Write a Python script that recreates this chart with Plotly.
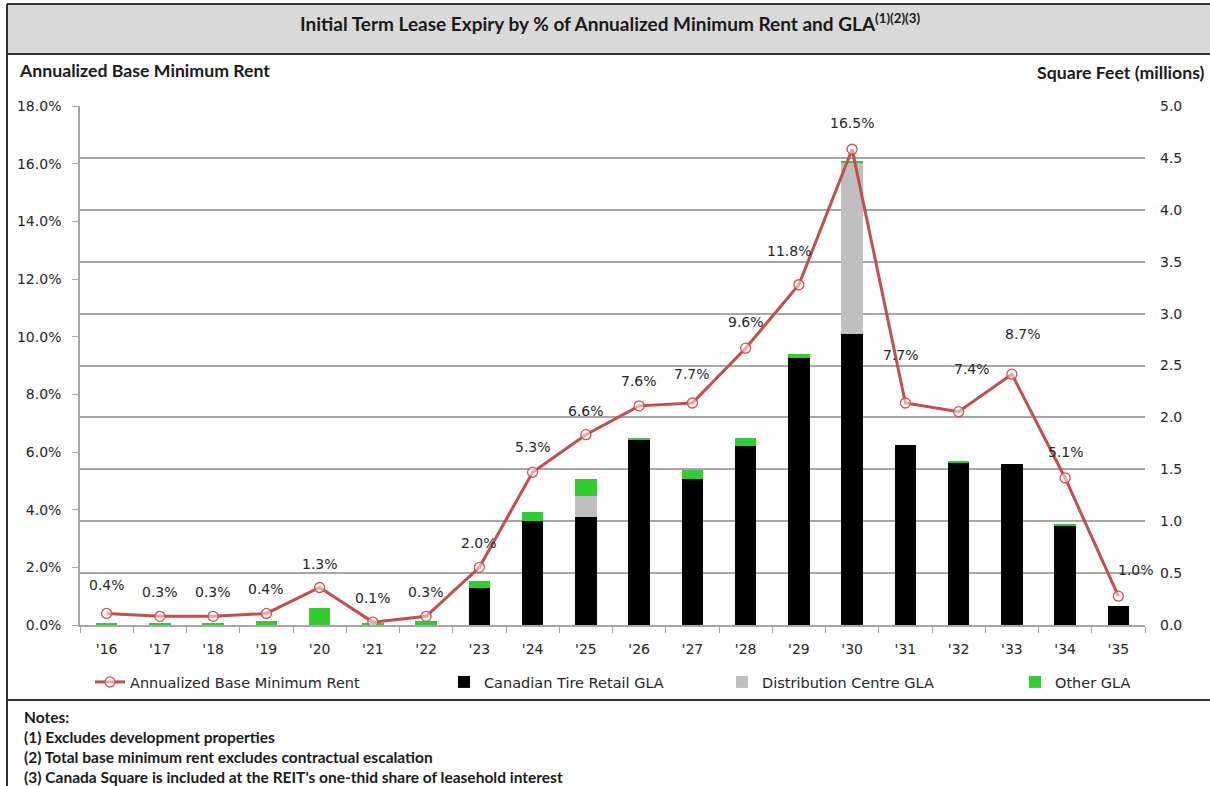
import plotly.graph_objects as go

years = ["'16", "'17", "'18", "'19", "'20", "'21", "'22", "'23", "'24", "'25",
         "'26", "'27", "'28", "'29", "'30", "'31", "'32", "'33", "'34", "'35"]
rent_pct = [0.4, 0.3, 0.3, 0.4, 1.3, 0.1, 0.3, 2.0, 5.3, 6.6,
            7.6, 7.7, 9.6, 11.8, 16.5, 7.7, 7.4, 8.7, 5.1, 1.0]
ct_retail_gla = [0.0, 0.0, 0.0, 0.0, 0.0, 0.0, 0.0, 0.36, 1.0, 1.04,
                 1.78, 1.41, 1.72, 2.57, 2.80, 1.73, 1.57, 1.55, 0.95, 0.18]
dist_centre_gla = [0, 0, 0, 0, 0, 0, 0, 0, 0, 0.20,
                   0, 0, 0, 0, 1.65, 0, 0, 0, 0, 0]
other_gla = [0.02, 0.02, 0.02, 0.04, 0.16, 0.02, 0.04, 0.06, 0.09, 0.17,
             0.02, 0.08, 0.08, 0.04, 0.02, 0.0, 0.01, 0.0, 0.025, 0.0]
notes = [
    "Notes:",
    "(1) Excludes development properties",
    "(2) Total base minimum rent excludes contractual escalation",
    "(3) Canada Square is included at the REIT's one-thid share of leasehold interest",
]

# per-label nudges (px) so the percentages sit like the original
label_dy = [28, 24, 24, 24, 24, 24, 24, 24, 25, 24, 25, 29, 26, 34, 26, 48, 43, 40, 26, 26]
label_dx = [0, 0, 0, 0, 0, 0, 0, 0, 0, 0, 0, 0, 0, -10, 0, -4, 13, 11, 1, 18]

W, H = 1210, 786
L, R, T, B = 80, 1145, 106, 625


def px(x):
    return (x - L) / (R - L)


def py(y):
    return (B - y) / (B - T)


num_font = "DejaVu Sans"
head_font = "Lato"
grid = "#a6a6a6"

fig = go.Figure()
fig.add_trace(go.Bar(x=years, y=ct_retail_gla, name="Canadian Tire Retail GLA",
                     marker=dict(color="#000000", line_width=0), width=0.4,
                     yaxis="y", legend="legend2", hoverinfo="skip"))
fig.add_trace(go.Bar(x=years, y=dist_centre_gla, name="Distribution Centre GLA",
                     marker=dict(color="#bfbfbf", line_width=0), width=0.4,
                     yaxis="y", legend="legend3", hoverinfo="skip"))
fig.add_trace(go.Bar(x=years, y=other_gla, name="Other GLA",
                     marker=dict(color="#33cc33", line_width=0), width=0.4,
                     yaxis="y", legend="legend4", hoverinfo="skip"))
fig.add_trace(go.Scatter(x=years, y=rent_pct, name="Annualized Base Minimum Rent",
                         mode="lines+markers", yaxis="y2", legend="legend",
                         line=dict(color="#c0504d", width=3),
                         marker=dict(symbol="circle", size=10, color="rgba(255,255,255,0.5)",
                                     line=dict(color="#d0504d", width=1.3)),
                         hoverinfo="skip"))

annotations = []
for i, (yr, v) in enumerate(zip(years, rent_pct)):
    annotations.append(dict(x=yr, y=v, xref="x", yref="y2", text=f"{v:.1f}%",
                            showarrow=False, yshift=label_dy[i], xshift=label_dx[i],
                            font=dict(family=num_font, size=14, color="#262626")))

annotations += [
    dict(x=px(610), y=py(22), xref="paper", yref="paper", xanchor="center", yanchor="middle",
         text="Initial Term Lease Expiry by % of Annualized Minimum Rent and GLA<sup>(1)(2)(3)</sup>",
         showarrow=False, font=dict(family=head_font, size=19, color="#1a1a1a", weight="bold")),
    dict(x=px(17), y=py(70), xref="paper", yref="paper", xanchor="left", yanchor="middle",
         text="<b>Annualized Base Minimum Rent</b>", showarrow=False,
         font=dict(family=head_font, size=17.7, color="#1a1a1a")),
    dict(x=px(1207), y=py(72), xref="paper", yref="paper", xanchor="right", yanchor="middle",
         text="<b>Square Feet (millions)</b>", showarrow=False,
         font=dict(family=head_font, size=17.7, color="#1a1a1a")),
]
for j, line in enumerate(notes):
    annotations.append(dict(x=px(22), y=py(717 + 20 * j), xref="paper", yref="paper",
                            xanchor="left", yanchor="middle", text=line, showarrow=False,
                            font=dict(family=head_font, size=15.5, color="#1a1a1a",
                                      weight="bold")))

shapes = [
    dict(type="rect", xref="paper", yref="paper", x0=px(7), x1=px(1212), y0=py(54), y1=py(4),
         fillcolor="#d9d9d9", line_width=0, layer="below"),
    dict(type="line", xref="paper", yref="paper", x0=px(7), x1=px(1212), y0=py(4), y1=py(4),
         line=dict(color="#333333", width=2)),
    dict(type="line", xref="paper", yref="paper", x0=px(7), x1=px(1212), y0=py(54), y1=py(54),
         line=dict(color="#333333", width=2)),
    dict(type="line", xref="paper", yref="paper", x0=px(7), x1=px(7), y0=py(4), y1=py(788),
         line=dict(color="#333333", width=2)),
    dict(type="line", xref="paper", yref="paper", x0=px(7), x1=px(1212), y0=py(700), y1=py(700),
         line=dict(color="#333333", width=2)),
]

legend_common = dict(orientation="h", xanchor="left", yanchor="middle", y=py(682),
                     bgcolor="rgba(0,0,0,0)",
                     font=dict(family=num_font, size=14.5, color="#262626"))

fig.update_layout(
    width=W, height=H,
    margin=dict(l=L, r=W - R, t=T, b=H - B),
    paper_bgcolor="white", plot_bgcolor="white",
    barmode="stack", bargap=0.6,
    showlegend=True,
    legend=dict(x=px(90), **legend_common),
    legend2=dict(x=px(444), **legend_common),
    legend3=dict(x=px(722), **legend_common),
    legend4=dict(x=px(1015), **legend_common),
    xaxis=dict(range=[-0.5, len(years) - 0.5], showgrid=False, showline=True,
               linecolor=grid, linewidth=1.5,
               ticks="outside", tickson="boundaries", ticklen=6, tickcolor=grid,
               ticklabelstandoff=10,
               tickfont=dict(family=num_font, size=14, color="#262626")),
    yaxis=dict(side="right", range=[0, 5], dtick=0.5, tickformat=".1f",
               showgrid=True, gridcolor=grid, gridwidth=1.5, zeroline=False,
               showline=False, ticks="", ticklabelstandoff=14,
               tickfont=dict(family=num_font, size=14, color="#262626")),
    yaxis2=dict(overlaying="y", side="left", range=[0, 18], dtick=2,
                tickformat=".1f", ticksuffix="%", showgrid=False, zeroline=False,
                showline=True, linecolor=grid, linewidth=1.5,
                ticks="outside", ticklen=6, tickcolor=grid, ticklabelstandoff=8,
                tickfont=dict(family=num_font, size=14, color="#262626")),
    annotations=annotations,
    shapes=shapes,
)

fig.write_html("out.html", config={"displayModeBar": False},
               post_script="document.body.style.margin = '0';")
